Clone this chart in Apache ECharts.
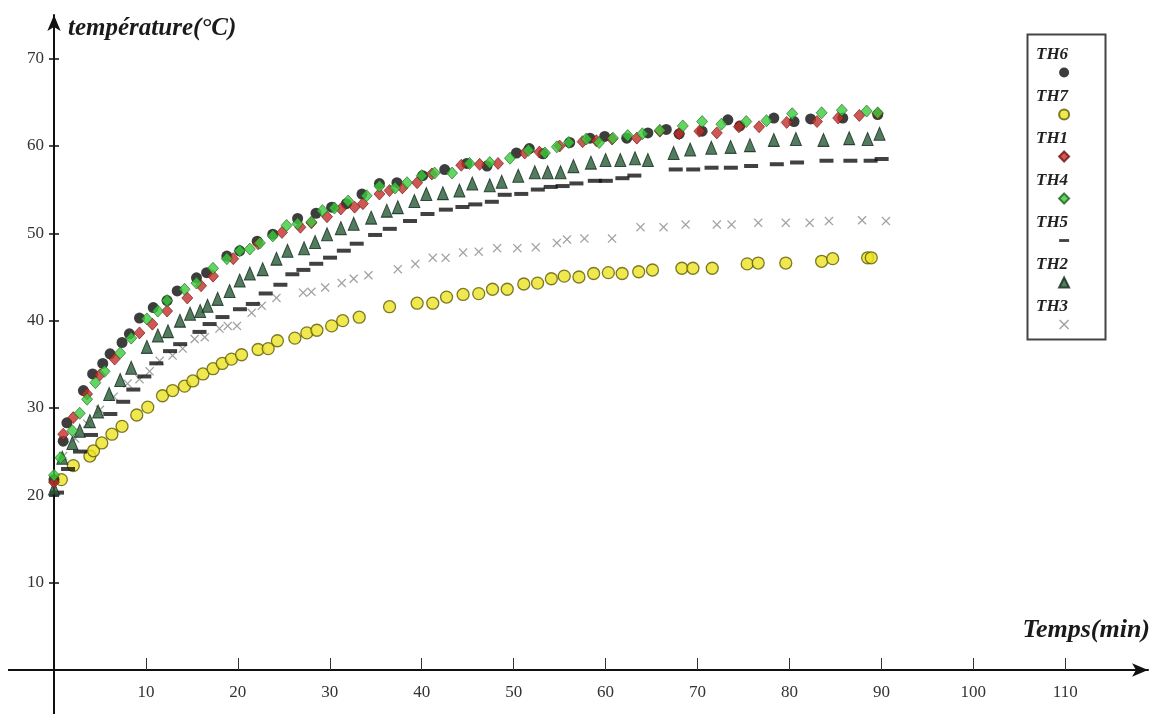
<!DOCTYPE html>
<html><head><meta charset="utf-8">
<script src="https://cdn.jsdelivr.net/npm/echarts@6/dist/echarts.min.js"></script>
<style>html,body{margin:0;padding:0;background:#fff}#c{width:1157px;height:714px}</style>
</head><body><div id="c"></div>
<script>
// ---- data (time in min, temperature in °C) ----
const legendOrder = ['TH6','TH7','TH1','TH4','TH5','TH2','TH3'];
const xTickValues = [10,20,30,40,50,60,70,80,90,100,110];
const yTickValues = [10,20,30,40,50,60,70];
const xTitle = 'Temps(min)';
const yTitle = 'température(°C)';

const TH6 = [[0,21.8],[1.0,26.2],[1.4,28.3],[3.2,32.0],[4.2,33.9],[5.3,35.1],[6.1,36.2],[7.4,37.5],[8.2,38.5],[9.3,40.3],[10.8,41.5],[12.3,42.3],[13.4,43.4],[15.5,44.9],[16.6,45.5],[18.8,47.4],[20.2,48.0],[22.1,49.1],[23.8,49.9],[26.5,51.7],[28.5,52.3],[30.2,53.0],[31.8,53.4],[33.5,54.5],[35.4,55.7],[37.3,55.8],[40.1,56.6],[42.5,57.3],[44.9,58.0],[47.1,57.7],[50.3,59.2],[51.7,59.7],[53.2,59.1],[56.1,60.4],[58.3,60.9],[59.9,61.1],[62.3,60.9],[64.6,61.5],[66.6,61.9],[68.0,61.4],[70.5,61.7],[73.3,63.0],[74.6,62.3],[78.3,63.2],[80.5,62.8],[82.3,63.1],[85.8,63.2],[89.6,63.6]];
const TH7 = [[0.8,21.8],[2.1,23.4],[3.9,24.5],[4.3,25.1],[5.2,26.0],[6.3,27.0],[7.4,27.9],[9.0,29.2],[10.2,30.1],[11.8,31.4],[12.9,32.0],[14.2,32.5],[15.1,33.1],[16.2,33.9],[17.3,34.5],[18.3,35.1],[19.3,35.6],[20.4,36.1],[22.2,36.7],[23.3,36.8],[24.3,37.7],[26.2,38.0],[27.5,38.6],[28.6,38.9],[30.2,39.4],[31.4,40.0],[33.2,40.4],[36.5,41.6],[39.5,42.0],[41.2,42.0],[42.7,42.7],[44.5,43.0],[46.2,43.1],[47.7,43.6],[49.3,43.6],[51.1,44.2],[52.6,44.3],[54.1,44.8],[55.5,45.1],[57.1,45.0],[58.7,45.4],[60.3,45.5],[61.8,45.4],[63.6,45.6],[65.1,45.8],[68.3,46.0],[69.5,46.0],[71.6,46.0],[75.4,46.5],[76.6,46.6],[79.6,46.6],[83.5,46.8],[84.7,47.1],[88.5,47.2],[88.9,47.2]];
const TH1 = [[0,21.5],[1.0,27.0],[2.1,28.9],[3.6,31.6],[5.0,33.8],[6.6,35.6],[9.3,38.6],[10.7,39.6],[12.3,41.1],[14.5,42.6],[16.0,44.0],[17.3,45.1],[19.5,47.1],[22.2,48.8],[24.8,50.1],[26.8,50.7],[28.0,51.2],[29.7,51.9],[31.2,52.8],[32.7,53.0],[33.6,53.4],[35.4,54.5],[36.5,54.9],[37.9,55.2],[39.5,55.8],[41.1,56.8],[44.3,57.8],[46.3,57.9],[48.3,58.0],[51.2,59.2],[52.8,59.3],[55.0,60.0],[57.5,60.5],[59.0,60.6],[60.7,60.8],[63.4,60.9],[65.9,61.7],[68.0,61.4],[70.2,61.7],[72.1,61.5],[74.5,62.2],[76.7,62.2],[79.7,62.7],[83.0,62.8],[85.3,63.2],[87.6,63.5],[89.6,63.7]];
const TH4 = [[0,22.3],[0.7,24.3],[2.0,27.4],[2.8,29.4],[3.6,31.0],[4.5,32.9],[5.5,34.2],[7.2,36.3],[8.4,38.0],[10.1,40.2],[11.3,41.1],[12.3,42.3],[14.2,43.6],[15.5,44.3],[17.3,46.0],[18.8,47.1],[20.2,48.0],[21.3,48.2],[22.4,48.9],[23.8,49.7],[25.3,50.9],[26.5,51.1],[28.0,51.3],[29.2,52.6],[30.5,52.9],[32.0,53.7],[34.0,54.3],[35.4,55.4],[37.1,55.2],[38.4,55.8],[40.0,56.6],[41.4,56.9],[43.3,56.9],[45.2,58.0],[47.4,58.1],[49.6,58.6],[51.6,59.5],[53.4,59.2],[54.7,59.9],[56.0,60.4],[57.9,60.8],[59.3,60.4],[60.8,60.9],[62.4,61.2],[64.0,61.4],[65.9,61.8],[68.4,62.3],[70.5,62.8],[72.6,62.5],[75.3,62.8],[77.5,62.9],[80.3,63.7],[83.5,63.8],[85.7,64.1],[88.4,64.0],[89.6,63.8]];
const TH5 = [[0,21.0],[1.2,23.7],[2.5,25.7],[3.7,27.6],[5.8,30.0],[7.2,31.4],[8.3,32.8],[9.5,34.3],[10.8,35.8],[12.3,37.2],[13.4,38.0],[15.5,39.4],[16.6,40.3],[18.0,41.1],[19.9,42.0],[21.3,42.6],[22.7,43.8],[24.3,44.8],[25.6,46.0],[26.8,46.5],[28.2,47.2],[29.7,47.9],[31.2,48.7],[32.6,49.5],[34.6,50.5],[36.2,51.2],[38.4,52.1],[40.3,52.9],[42.3,53.4],[44.1,53.7],[45.5,54.0],[47.3,54.3],[48.7,55.1],[50.5,55.2],[52.3,55.7],[53.7,56.0],[55.0,56.1],[56.5,56.4],[58.5,56.7],[59.7,56.7],[61.5,57.0],[62.8,57.3],[67.3,58.0],[69.2,58.0],[71.2,58.2],[73.3,58.2],[75.5,58.4],[78.3,58.6],[80.5,58.8],[83.7,59.0],[86.3,59.0],[88.5,59.0],[89.7,59.2]];
const TH2 = [[0,20.8],[0.9,24.3],[2.0,26.0],[2.8,27.4],[3.9,28.5],[4.8,29.6],[6.0,31.6],[7.2,33.2],[8.4,34.6],[10.1,37.0],[11.3,38.3],[12.4,38.8],[13.7,40.0],[14.8,40.8],[15.9,41.1],[16.7,41.7],[17.8,42.5],[19.1,43.4],[20.2,44.6],[21.3,45.4],[22.7,45.9],[24.2,47.1],[25.4,48.0],[27.2,48.3],[28.4,49.0],[29.7,49.9],[31.2,50.6],[32.6,51.1],[34.5,51.8],[36.2,52.6],[37.4,53.0],[39.2,53.7],[40.5,54.5],[42.3,54.6],[44.1,54.9],[45.5,55.7],[47.4,55.5],[48.7,55.9],[50.5,56.6],[52.3,57.0],[53.7,57.0],[55.1,57.0],[56.5,57.7],[58.4,58.1],[60.0,58.4],[61.6,58.4],[63.2,58.6],[64.6,58.4],[67.4,59.2],[69.2,59.6],[71.5,59.8],[73.6,59.9],[75.7,60.1],[78.3,60.7],[80.7,60.8],[83.7,60.7],[86.5,60.9],[88.5,60.8],[89.8,61.4]];
const TH3 = [[0,21.8],[1.0,24.5],[2.3,26.5],[3.6,28.2],[5.0,29.8],[6.5,31.3],[8.0,32.8],[9.3,33.3],[10.4,34.2],[11.5,35.4],[12.9,36.0],[14.0,36.8],[15.3,37.9],[16.4,38.1],[18.0,39.1],[18.9,39.4],[19.9,39.4],[21.5,40.9],[22.6,41.7],[24.2,42.6],[27.1,43.2],[28.0,43.3],[29.5,43.8],[31.3,44.3],[32.6,44.8],[34.2,45.2],[37.4,45.9],[39.3,46.5],[41.2,47.2],[42.6,47.2],[44.5,47.8],[46.2,47.9],[48.2,48.3],[50.4,48.3],[52.4,48.4],[54.7,48.9],[55.8,49.3],[57.7,49.4],[60.7,49.4],[63.8,50.7],[66.3,50.7],[68.7,51.0],[72.1,51.0],[73.7,51.0],[76.6,51.2],[79.6,51.2],[82.2,51.2],[84.3,51.4],[87.9,51.5],[90.5,51.4]];

// ---- chart ----
const serif = '"Liberation Serif", "DejaVu Serif", serif';
const X_MIN = 0, X_MAX = 119, Y_MIN = 0, Y_MAX = 75;
const crossPath = 'path://M0,1L1,0L5,4L9,0L10,1L6,5L10,9L9,10L5,6L1,10L0,9L4,5Z';
const dashPath = 'path://M0,0L14,0L14,4L0,4Z';

const chart = echarts.init(document.getElementById('c'), null, {renderer: 'canvas'});
const axisLineStyle = {color: '#111', width: 2};

const option = {
  animation: false,
  backgroundColor: '#fff',
  grid: {left: 54, right: 9, top: 15, bottom: 44, outerBoundsMode: 'none'},
  xAxis: [{
    type: 'value', min: X_MIN, max: X_MAX, position: 'bottom',
    axisLine: {show: true, onZero: true, lineStyle: axisLineStyle, symbol: ['none', 'arrow'], symbolSize: [10, 16]},
    axisTick: {show: true, inside: true, length: 12, customValues: xTickValues, lineStyle: {color: '#333', width: 1}},
    axisLabel: {show: true, customValues: xTickValues, margin: 14, color: '#333', fontFamily: serif, fontSize: 17},
    splitLine: {show: false}
  }],
  yAxis: [{
    type: 'value', min: Y_MIN, max: Y_MAX, position: 'left',
    axisLine: {show: true, onZero: true, onZeroAxisIndex: 0, lineStyle: axisLineStyle, symbol: ['none', 'arrow'], symbolSize: [10, 16]},
    axisTick: {show: true, inside: false, length: 5, customValues: yTickValues, lineStyle: {color: '#111', width: 1.5}},
    axisLabel: {show: true, customValues: yTickValues, margin: 10, color: '#333', fontFamily: serif, fontSize: 17},
    splitLine: {show: false}
  }, {
    type: 'value', min: Y_MIN, max: Y_MAX, position: 'right',
    axisLine: {show: false, onZero: true, onZeroAxisIndex: 0},
    axisTick: {show: true, inside: false, length: 5, customValues: yTickValues, lineStyle: {color: '#111', width: 1.5}},
    axisLabel: {show: false},
    splitLine: {show: false}
  }],
  legend: {
    data: legendOrder,
    orient: 'vertical', align: 'right',
    left: 1036, top: 46, padding: 0,
    itemWidth: 10, itemHeight: 10, itemGap: 6,
    formatter: '{t|{name}}\n{g| }',
    textStyle: {
      rich: {
        t: {fontFamily: serif, fontStyle: 'italic', fontWeight: 'bold', fontSize: 17, color: '#222',
            lineHeight: 17, padding: [0, -14, 0, 0]},
        g: {fontSize: 2, lineHeight: 36}
      }
    }
  },
  graphic: [
    {type: 'rect', left: 1025, top: 32, shape: {width: 78, height: 305},
     style: {fill: 'none', stroke: '#444', lineWidth: 2}, z: -1},
    {type: 'line', shape: {x1: 8, y1: 670, x2: 55, y2: 670}, style: {stroke: '#111', lineWidth: 2}},
    {type: 'line', shape: {x1: 54, y1: 669, x2: 54, y2: 714}, style: {stroke: '#111', lineWidth: 2}},
    {type: 'text', left: 68, top: 16,
     style: {text: yTitle, font: 'italic bold 25px ' + serif, fill: '#1a1a1a'}},
    {type: 'text', right: 7, top: 617,
     style: {text: xTitle, font: 'italic bold 26px ' + serif, fill: '#1a1a1a'}}
  ],
  series: [
    {name: 'TH3', type: 'scatter', data: TH3, symbol: crossPath, symbolSize: 9, clip: false,
     itemStyle: {color: '#8a8a8a'}},
    {name: 'TH7', type: 'scatter', data: TH7, symbol: 'circle', symbolSize: 12, clip: false,
     itemStyle: {color: '#ece223', borderColor: '#5e5a00', borderWidth: 1.3}},
    {name: 'TH5', type: 'scatter', data: TH5, symbol: dashPath, symbolSize: [14, 4], symbolOffset: [3, 6], clip: false,
     itemStyle: {color: '#111'}},
    {name: 'TH2', type: 'scatter', data: TH2, symbol: 'triangle', symbolSize: [11, 13], clip: false,
     itemStyle: {color: '#285a36', borderColor: '#10291a', borderWidth: 1}},
    {name: 'TH6', type: 'scatter', data: TH6, symbol: 'circle', symbolSize: 11, clip: false,
     itemStyle: {color: '#0d0d0d'}},
    {name: 'TH1', type: 'scatter', data: TH1, symbol: 'diamond', symbolSize: [11, 12], clip: false,
     itemStyle: {color: '#c22e28', borderColor: '#6e1010', borderWidth: 0.8}},
    {name: 'TH4', type: 'scatter', data: TH4, symbol: 'diamond', symbolSize: [11, 12], clip: false,
     itemStyle: {color: '#3bcc3b', borderColor: '#1d5f1d', borderWidth: 0.8}}
  ]
};
chart.setOption(option);
</script>
</body></html>
